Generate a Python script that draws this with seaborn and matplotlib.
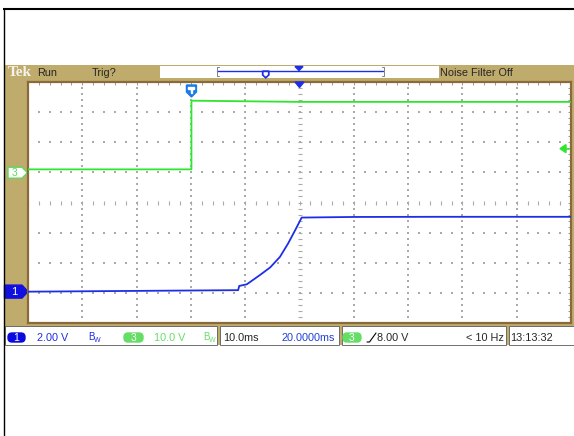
import numpy as np
import pandas as pd
import seaborn as sns
import matplotlib.pyplot as plt
from matplotlib.patches import Rectangle, Polygon, FancyBboxPatch

# scope capture: time in ms across the 100 ms screen, volts per channel
ch1_time = [0, 38.7, 38.9, 40.3, 42.7, 44.6, 46.4, 47.9, 49.2, 50.4, 60, 75, 100]
ch1_volts = [0.0, 0.1, 0.38, 0.49, 1.1, 1.61, 2.31, 3.2, 4.08, 4.92, 4.96, 4.97, 4.97]
ch3_time = [0, 30.1, 30.1, 40, 50, 60, 100]
ch3_volts = [1.1, 1.1, 23.9, 23.7, 23.5, 23.5, 23.5]

ch1_scale, ch3_scale = 2.0, 10.0       # volts per division
ch1_offset, ch3_offset = -2.96, 0.99   # ground marker, divisions from centre
trig_time = 30.1
trig_level = 8.0

header_labels = ["Run", "Trig?", "Noise Filter Off"]
status_labels = ["2.00 V", "10.0 V", "10.0ms", "20.0000ms", "8.00 V", "< 10 Hz", "13:13:32"]

tan = '#BFAC6C'
brown = '#8A6A3A'
blue = '#1E2EE6'
green = '#2EE62E'
pale_green = '#5CD85C'

sns.set_style('white')
plt.rcParams['font.family'] = ['Liberation Sans', 'DejaVu Sans']

fig = plt.figure(figsize=(5.74, 4.36), dpi=100)

# background layer in pixel coordinates
bg = fig.add_axes([0, 0, 1, 1], zorder=0)
bg.set_xlim(0, 574)
bg.set_ylim(436, 0)
bg.axis('off')

bg.plot([3, 574], [9, 9], color='black', lw=1.5, solid_capstyle='butt')
bg.plot([3.5, 3.5], [8, 436], color='black', lw=1.0, solid_capstyle='butt')
bg.add_patch(Rectangle((4, 65), 570, 280, facecolor=tan, edgecolor='none'))

# header
bg.text(7.5, 73, "Tek", family=['Liberation Serif', 'DejaVu Serif'], weight='bold',
        color='#F4F2EA', fontsize=11, va='center')
bg.text(37, 73, header_labels[0], fontsize=7.8, va='center')
bg.text(92, 73, header_labels[1], fontsize=7.8, va='center')
bg.add_patch(Rectangle((160, 66), 279, 12.5, facecolor='white', edgecolor='none'))
bg.text(440, 73, header_labels[2], fontsize=7.8, va='center')
bg.plot([217, 383], [71.5, 71.5], color=blue, lw=1.0)
for bx, d in [(216.5, 2), (383.5, -2)]:
    bg.plot([bx + d, bx, bx, bx + d], [67, 67, 76, 76], color='#808080', lw=0.7)
bg.add_patch(Polygon([(295, 66.5), (303, 66.5), (299, 70.5)], color=blue))
bg.add_patch(Polygon([(262.5, 71), (269, 71), (269, 75), (265.7, 78), (262.5, 75)], color=blue))
bg.add_patch(Polygon([(264.3, 72.3), (267.2, 72.3), (267.2, 74.3), (265.7, 75.8), (264.3, 74.3)],
                     color='white'))

# channel ground markers on the left strip
y3 = 202.5 - ch3_offset * 30.1
y1 = 202.5 - ch1_offset * 30.1
bg.add_patch(Polygon([(8, y3 - 5.5), (22, y3 - 5.5), (27.5, y3), (22, y3 + 5.5), (8, y3 + 5.5)],
                     facecolor='white', edgecolor=pale_green, lw=1.0))
bg.text(15, y3 + 0.5, "3", color=pale_green, fontsize=7.5, ha='center', va='center')
bg.add_patch(Polygon([(4.5, y1 - 6.5), (22, y1 - 6.5), (28, y1), (22, y1 + 6.5), (4.5, y1 + 6.5)],
                     color='#1010E0'))
bg.text(14, y1 + 0.5, "1", color='white', fontsize=8, ha='center', va='center')

# status bar boxes
for x0, x1 in [(4.5, 217), (220, 338.5), (341.5, 506), (509, 574)]:
    bg.add_patch(Rectangle((x0, 325.5), x1 - x0, 19, facecolor='white',
                           edgecolor='#5a5a5a', lw=0.6))
bg.add_patch(FancyBboxPatch((8, 333), 17, 9, boxstyle='round,pad=0,rounding_size=4',
                            color='#0A0AE0'))
bg.text(16.5, 337.8, "1", color='white', fontsize=7.5, ha='center', va='center')
bg.text(37, 337.5, status_labels[0], color=blue, fontsize=7.8, va='center')
bg.text(88, 336.5, "B", color=blue, fontsize=7, va='center')
bg.text(93.5, 340, "W", color=blue, fontsize=5, va='center')
bg.add_patch(FancyBboxPatch((124, 333), 19, 9, boxstyle='round,pad=0,rounding_size=4',
                            color='#66DD66'))
bg.text(133.5, 337.8, "3", color='white', fontsize=7.5, ha='center', va='center')
bg.text(154, 337.5, status_labels[1], color='#66DD66', fontsize=7.8, va='center')
bg.text(203, 336.5, "B", color='#66DD66', fontsize=7, va='center')
bg.text(208.5, 340, "W", color='#66DD66', fontsize=5, va='center')
bg.text(223, 337.5, status_labels[2], fontsize=7.8, va='center')
bg.text(282, 337.5, status_labels[3], color='#2040D8', fontsize=7.8, va='center')
bg.add_patch(FancyBboxPatch((343, 333), 18, 9, boxstyle='round,pad=0,rounding_size=4',
                            color='#66DD66'))
bg.text(352, 337.8, "3", color='white', fontsize=7.5, ha='center', va='center')
bg.plot([367, 369.5, 376], [342, 342, 333], color='black', lw=0.8)
bg.text(377, 337.5, status_labels[4], fontsize=7.8, va='center')
bg.text(504, 337.5, status_labels[5], fontsize=7.8, va='center', ha='right')
bg.text(510.5, 337.5, status_labels[6], fontsize=7.8, va='center')

# graticule: 10 x 8 divisions
ax = fig.add_axes([28 / 574, (436 - 323) / 436, 543 / 574, 241 / 436], zorder=2)
ax.set_facecolor('white')

dots_y = np.arange(-4, 4.01, 0.2)
dots_x = np.arange(0, 100.1, 2)
for gx in range(10, 100, 10):
    if gx != 50:
        ax.scatter(np.full(dots_y.size, gx), dots_y, s=1.2, marker='s', color='#AAAAAA',
                   linewidths=0, zorder=1)
for gy in range(-3, 4):
    if gy != 0:
        ax.scatter(dots_x, np.full(dots_x.size, gy), s=1.2, marker='s', color='#AAAAAA',
                   linewidths=0, zorder=1)
ax.scatter(np.full(dots_y.size, 50), dots_y, s=9, marker='_', color='#AAAAAA',
           linewidths=0.8, zorder=1)
ax.scatter(dots_x, np.zeros(dots_x.size), s=9, marker='|', color='#AAAAAA',
           linewidths=0.8, zorder=1)

df = pd.concat([
    pd.DataFrame({'time': ch1_time, 'div': np.array(ch1_volts) / ch1_scale + ch1_offset,
                  'channel': '1'}),
    pd.DataFrame({'time': ch3_time, 'div': np.array(ch3_volts) / ch3_scale + ch3_offset,
                  'channel': '3'}),
])
sns.lineplot(data=df, x='time', y='div', hue='channel', palette={'1': blue, '3': green},
             estimator=None, sort=False, legend=False, linewidth=1.3, ax=ax, zorder=3)

ax.set_xlim(0, 100)
ax.set_ylim(-4, 4)
ax.set_xlabel('')
ax.set_ylabel('')
ax.set_xticks(np.arange(0, 101, 10))
ax.set_xticks(dots_x, minor=True)
ax.set_yticks(np.arange(-4, 5, 1))
ax.set_yticks(dots_y, minor=True)
ax.tick_params(which='both', direction='in', length=2.5, width=0.7, color='#9A9A9A',
               top=True, right=True, labelbottom=False, labelleft=False)
for s in ax.spines.values():
    s.set_color(brown)
    s.set_linewidth(1.6)

# markers sitting over the graticule
top = fig.add_axes([0, 0, 1, 1], zorder=5)
top.set_xlim(0, 574)
top.set_ylim(436, 0)
top.axis('off')
tx = 28 + trig_time * 5.43
top.add_patch(Polygon([(tx - 5, 85), (tx + 5, 85), (tx + 5, 92), (tx, 97), (tx - 5, 92)],
                      color='#1A7AE8'))
top.add_patch(Polygon([(tx - 3, 87), (tx + 3, 87), (tx + 3, 88.8), (tx + 0.9, 88.8),
                       (tx + 0.9, 93), (tx - 0.9, 93), (tx - 0.9, 88.8), (tx - 3, 88.8)],
                      color='white'))
top.add_patch(Polygon([(295, 82), (304, 82), (299.5, 87.5)], color=blue))
ty = y3 - trig_level / ch3_scale * 30.1
top.add_patch(Polygon([(560, ty), (566, ty - 4), (566, ty + 4)], color=green))
top.plot([565, 569], [ty, ty], color=green, lw=1.2)

fig.savefig('out.png', dpi=100)
